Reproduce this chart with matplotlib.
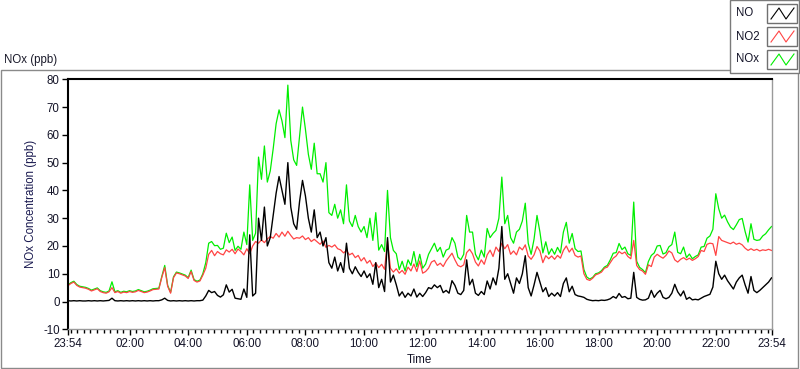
import matplotlib
matplotlib.use("Agg")
import matplotlib.pyplot as plt
import matplotlib.dates as mdates
from matplotlib.patches import Rectangle
from matplotlib.lines import Line2D
import pandas as pd
import numpy as np

# ---------------- data (6-minute samples from 23:54 to 23:54) ----------------
start_time = "2000-01-01 23:54"
step = "6min"

series_names = ["NO", "NO2", "NOx"]

no = [
    0.3, 0.2, 0.3, 0.2, 0.3, 0.2, 0.2, 0.3, 0.2, 0.3,
    0.2, 0.3, 0.2, 0.3, 0.4, 1.2, 0.3, 0.2, 0.3, 0.2,
    0.3, 0.2, 0.3, 0.2, 0.3, 0.2, 0.3, 0.2, 0.3, 0.2,
    0.3, 0.3, 0.6, 1.2, 0.4, 0.2, 0.3, 0.2, 0.3, 0.2,
    0.3, 0.2, 0.3, 0.2, 0.3, 0.3, 0.5, 2.0, 4.0, 3.2,
    3.6, 2.2, 1.6, 2.4, 6.0, 3.4, 4.4, 1.2, 1.0, 0.8,
    4.5, 1.5, 24.0, 2.0, 3.0, 30.0, 22.0, 34.0, 20.0, 23.0,
    31.0, 39.0, 45.0, 40.0, 35.0, 50.0, 34.0, 28.0, 26.0, 36.0,
    43.6, 38.0, 30.0, 25.0, 33.0, 23.0, 25.0, 20.0, 23.0, 14.0,
    12.0, 16.0, 11.0, 14.0, 10.5, 21.0, 12.0, 10.0, 12.5, 10.5,
    9.0, 11.0, 8.6, 10.0, 6.2, 14.0, 5.0, 8.0, 3.6, 23.0,
    7.0, 9.5, 6.0, 2.0, 3.5, 1.5, 3.0, 2.0, 4.5, 1.6,
    3.0, 1.8, 3.2, 5.0, 4.6, 6.0, 5.0, 5.8, 3.2, 4.0,
    3.0, 7.5, 5.8, 3.0, 2.5, 4.0, 15.0, 6.0, 8.0, 3.0,
    2.2, 3.6, 2.5, 7.4, 4.5, 8.5, 6.0, 12.0, 27.0, 8.0,
    10.0, 6.5, 3.0, 8.5, 6.5, 10.0, 16.5, 5.0, 2.0, 6.0,
    10.5, 7.0, 3.5, 5.0, 1.8, 3.0, 2.0, 3.2, 1.8, 6.5,
    8.5, 3.5, 5.5, 2.5, 2.0, 1.8, 1.5, 0.8, 0.5, 0.3,
    0.4, 0.3, 0.5, 0.4, 0.6, 1.0, 1.8, 1.2, 2.9, 1.5,
    1.8, 1.0, 1.2, 10.5, 1.5, 0.8, 0.5, 0.6, 1.2, 4.0,
    1.5, 3.0, 4.0, 1.5, 1.0, 1.5, 3.0, 6.2, 3.5, 2.0,
    3.8, 0.8, 1.5, 0.6, 0.8, 0.6, 1.2, 1.8, 2.2, 2.6,
    5.2, 14.5, 10.0, 8.0, 9.5, 7.5, 6.0, 4.5, 7.0, 8.5,
    9.5, 6.0, 3.0, 9.0, 4.0, 3.2, 4.0, 5.0, 6.0, 7.0,
    8.5,
]

no2 = [
    5.7, 6.5, 7.0, 5.8, 5.2, 5.0, 4.8, 4.4, 3.8, 4.2,
    4.6, 3.6, 3.2, 3.0, 3.5, 5.0, 3.2, 3.6, 3.0, 3.4,
    3.2, 3.6, 3.3, 3.5, 4.0, 3.6, 3.2, 3.4, 3.8, 4.3,
    4.4, 4.5, 8.7, 12.2, 5.5, 3.0, 8.6, 10.3, 10.0, 9.6,
    9.2, 8.3, 10.8, 7.6, 7.0, 7.4, 9.5, 12.0, 17.0, 18.4,
    16.5, 18.0, 17.2, 16.8, 18.6, 17.8, 18.8, 17.2, 18.9, 18.0,
    16.8, 19.0, 17.2, 20.0, 21.6, 21.0, 22.2, 21.2, 22.5, 23.4,
    22.8, 24.5, 23.2, 25.0, 23.5, 25.3, 23.8, 22.5, 23.0, 22.8,
    23.6, 22.3, 23.0, 21.6, 22.4, 21.5, 20.6, 21.8, 19.5, 20.2,
    19.6, 20.4, 19.0, 18.6, 17.5, 18.4, 16.8, 17.4, 15.8, 16.6,
    14.6, 15.8, 13.8, 14.8, 12.6, 13.9, 12.2, 13.4, 11.6, 22.0,
    12.0, 10.6, 11.8, 10.2, 11.2, 9.8, 12.4, 11.0, 13.5, 10.8,
    14.6, 10.2, 10.8, 12.0, 14.2, 14.8, 13.0, 13.8, 12.6, 14.6,
    16.0, 17.4, 15.0, 13.0, 12.5, 13.2, 17.6, 18.8, 17.2, 14.2,
    12.8, 15.0, 13.4, 16.8, 18.5, 16.2, 19.6, 18.0, 21.0, 19.0,
    20.5, 17.0, 18.2, 16.8, 19.6, 18.6, 20.4, 16.4, 15.2, 16.8,
    19.8, 18.2, 14.0, 16.5, 15.4, 16.4, 15.2, 16.6, 15.6, 18.4,
    20.0, 17.8, 19.2, 16.6, 16.0, 16.4, 10.0, 8.0, 7.6, 8.4,
    9.6, 10.0, 10.6, 12.0, 12.4, 14.0, 15.6, 16.4, 18.0, 17.2,
    17.8, 16.2, 15.4, 22.0, 13.0, 11.5, 11.0, 9.8, 13.2, 12.6,
    16.0, 17.0, 16.2, 15.6, 16.6, 18.2, 17.5, 15.0, 14.2, 15.2,
    15.8, 15.0, 15.6, 14.8, 15.4, 16.2, 18.4, 18.0, 20.6, 21.0,
    20.8, 16.6, 23.4, 22.0, 21.6, 21.2, 20.8, 21.4, 20.6, 21.0,
    20.4, 19.2, 18.4, 19.0, 18.4, 18.8, 18.2, 18.6, 18.4, 18.8,
    18.4,
]

nox = [
    6.0, 6.8, 7.3, 6.1, 5.5, 5.3, 5.1, 4.7, 4.1, 4.5,
    4.9, 3.9, 3.5, 3.3, 3.8, 7.1, 3.5, 3.9, 3.3, 3.7,
    3.5, 3.9, 3.6, 3.8, 4.3, 3.9, 3.5, 3.7, 4.1, 4.6,
    4.7, 4.8, 9.0, 13.0, 5.8, 3.3, 8.9, 10.6, 10.3, 9.9,
    9.5, 8.6, 11.3, 7.9, 7.3, 7.7, 10.0, 14.0, 21.0, 21.6,
    20.1, 20.2, 18.8, 19.2, 24.6, 21.2, 23.2, 18.4, 19.9, 18.8,
    25.0, 20.5, 42.0, 22.0, 24.6, 52.0, 44.0, 56.0, 43.0, 47.0,
    55.0, 64.0, 69.0, 65.0, 59.0, 77.9, 58.0, 51.0, 49.0, 59.6,
    70.0, 62.0, 53.0, 47.6, 57.0, 46.0, 46.0, 43.0, 50.0, 32.0,
    31.0, 35.0, 30.0, 33.0, 28.0, 42.0, 29.0, 27.0, 31.0, 27.0,
    25.0, 27.0, 23.0, 30.0, 22.0, 32.0, 18.5, 20.5, 18.0, 40.0,
    23.0, 18.4, 17.2, 11.5, 14.5, 11.0, 15.0, 13.0, 18.0, 12.5,
    17.0, 12.0, 13.5, 17.0, 19.0, 21.0, 18.0, 19.5, 16.0, 18.5,
    19.0, 23.0, 21.0, 16.0, 15.0, 17.0, 31.0, 25.0, 25.0, 17.0,
    15.0, 18.5, 16.0, 26.3, 23.0, 24.5, 25.6, 30.0, 44.8, 28.0,
    31.0, 23.0, 21.0, 25.0, 26.0, 29.0, 35.4, 21.0, 17.0, 22.5,
    31.0, 25.0, 17.5, 21.5, 17.0, 19.0, 17.0, 19.5, 17.5, 25.0,
    28.5, 21.0, 24.5, 19.0, 18.0, 18.2, 11.5, 8.8, 8.1, 8.7,
    10.0, 10.3, 11.1, 12.4, 13.0, 15.0, 17.4, 17.6, 20.9, 18.7,
    19.6, 17.2, 16.6, 35.8, 14.5, 12.3, 11.5, 10.4, 14.4, 16.6,
    17.5, 20.0, 20.2, 17.1, 17.6, 19.7, 20.5, 25.0, 17.7, 17.2,
    19.6, 15.8, 17.1, 15.4, 16.2, 16.8, 19.6, 19.8, 22.8, 23.6,
    26.0, 38.8, 33.4, 30.0, 31.1, 28.7, 26.8, 25.9, 27.6, 29.5,
    29.9, 25.2, 21.4, 28.0, 22.4, 22.0, 22.2, 23.6, 24.4, 25.8,
    27.0,
]

y_ticks = [-10, 0, 10, 20, 30, 40, 50, 60, 70, 80]
x_tick_labels = ["23:54", "02:00", "04:00", "06:00", "08:00", "10:00", "12:00",
                 "14:00", "16:00", "18:00", "20:00", "22:00", "23:54"]

# ---------------- figure ----------------
FONT = "Liberation Sans"
FS = 8.3
W, H = 800, 369
fig = plt.figure(figsize=(W / 100, H / 100), dpi=100)
fig.patch.set_facecolor("white")

def fx(px):
    return px / W

def fy(py):
    return 1 - py / H

# outer frame
fig.patches.append(Rectangle((fx(0.5), fy(367.5)), fx(797.5), (367.5 - 69.5) / H,
                             transform=fig.transFigure, fill=False,
                             edgecolor="#8a8a8a", linewidth=1.0, zorder=0))

fig.text(fx(4), fy(63), "NOx (ppb)", fontsize=FS, family=FONT, color="#1a1a2a",
         ha="left", va="baseline")

ax_l, ax_r, ax_t, ax_b = 68, 771.5, 79.3, 329.3
ax = fig.add_axes([fx(ax_l), fy(ax_b), (ax_r - ax_l) / W, (ax_b - ax_t) / H])

times = pd.date_range(start_time, periods=len(no), freq=step)
t = mdates.date2num(times.to_pydatetime())

colors = {"NO": "#000000", "NO2": "#ff4444", "NOx": "#00ee00"}
values = {"NO": no, "NO2": no2, "NOx": nox}
z = {"NO": 3, "NO2": 2, "NOx": 1}
lw = {"NO": 1.0, "NO2": 0.9, "NOx": 0.9}
for name in series_names:
    ax.plot(t, values[name], color=colors[name], linewidth=lw[name],
            zorder=z[name])

ax.set_xlim(t[0], t[-1])
ax.set_ylim(y_ticks[0], y_ticks[-1])
ax.set_yticks(y_ticks)
ax.set_yticklabels([str(v) for v in y_ticks], fontsize=FS, family=FONT)

major = [t[0]] + [mdates.date2num(pd.Timestamp("2000-01-02") + pd.Timedelta(hours=h))
                  for h in range(2, 23, 2)] + [t[-1]]
ax.set_xticks(major)
ax.set_xticklabels(x_tick_labels, fontsize=FS, family=FONT)
minor = []
base = pd.Timestamp("2000-01-02")
k = 0
while True:
    m = base + pd.Timedelta(minutes=120 * k / 9)
    if m > times[-1]:
        break
    if k % 9 != 0 or k == 0:
        minor.append(mdates.date2num(m))
    k += 1
ax.set_xticks(minor, minor=True)

ax.tick_params(axis="both", which="major", direction="out", length=4, width=1,
               color="black", pad=2, labelcolor="#141428")
ax.tick_params(axis="x", which="minor", direction="out", length=3, width=1,
               color="black")

for s in ["left", "top"]:
    ax.spines[s].set_color("black")
    ax.spines[s].set_linewidth(1.5)
for s in ["right", "bottom"]:
    ax.spines[s].set_color("#9a9a9a")
    ax.spines[s].set_linewidth(1.0)

ax.set_ylabel("NOx Concentration (ppb)", fontsize=FS, family=FONT, color="#1a1a50")
ax.yaxis.set_label_coords(-(ax_l - 31) / (ax_r - ax_l), 0.5)
ax.yaxis.label.set_va("center")
ax.set_xlabel("Time", fontsize=FS, family=FONT, color="#141428")
ax.xaxis.set_label_coords(0.5, -(360 - ax_b) / (ax_b - ax_t))
ax.xaxis.label.set_va("center")

# ---------------- legend (LabVIEW style) ----------------
fig.patches.append(Rectangle((fx(730), fy(72.5)), fx(799 - 730), (72.5 - 0.5) / H,
                             transform=fig.transFigure, facecolor="white",
                             edgecolor="#7a7a7a", linewidth=1.0, zorder=5))
for k, name in enumerate(series_names):
    cy = 13.5 + 23 * k
    fig.text(fx(736), fy(cy), name, fontsize=FS, family=FONT, color="#141428",
             ha="left", va="center", zorder=6)
    top, bot = cy - 9.5, cy + 9.5
    fig.patches.append(Rectangle((fx(767), fy(bot)), fx(30), (bot - top) / H,
                                 transform=fig.transFigure, facecolor="white",
                                 edgecolor="#707070", linewidth=1.0, zorder=6))
    xs = [771, 779, 786, 794]
    ys = [bot - 4, top + 4, bot - 4, top + 4]
    fig.lines.append(Line2D([fx(v) for v in xs], [fy(v) for v in ys],
                            transform=fig.transFigure, color=colors[name],
                            linewidth=0.8, zorder=7))

fig.savefig("out.png", dpi=100, facecolor="white")
